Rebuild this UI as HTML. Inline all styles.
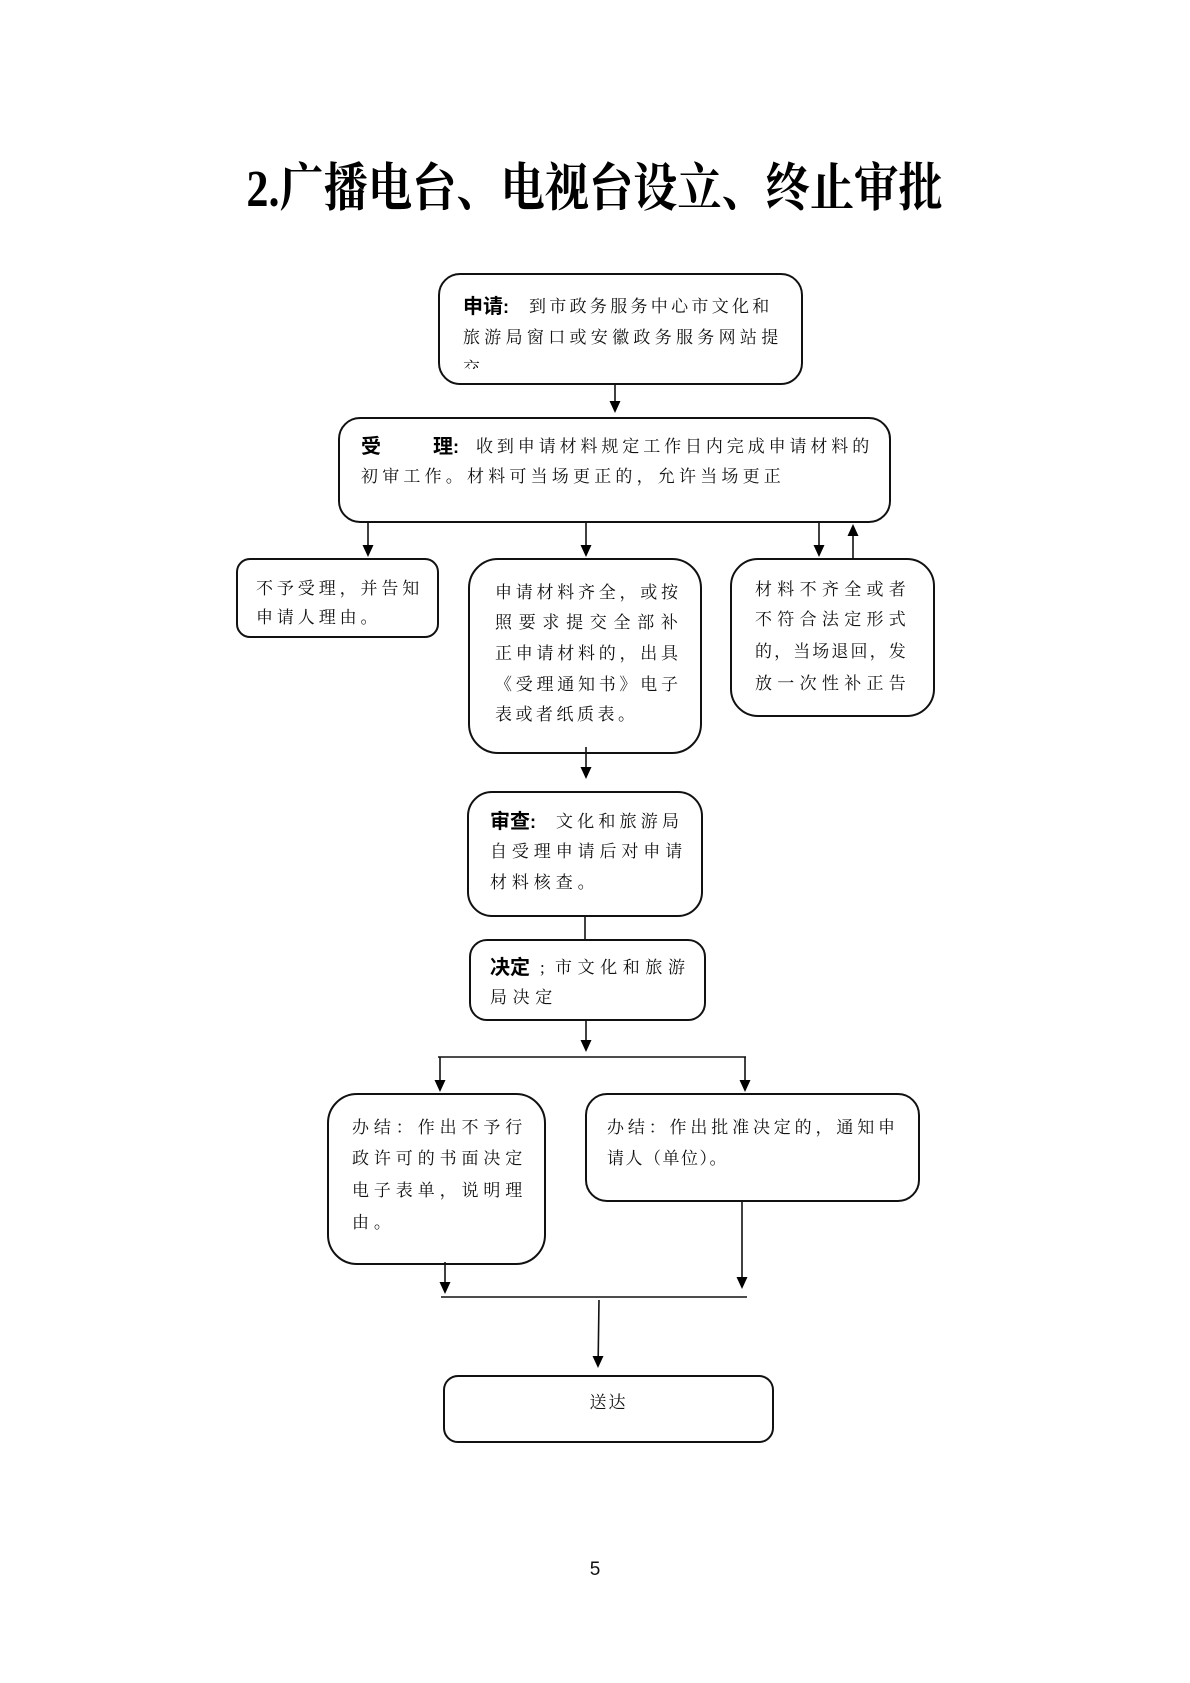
<!DOCTYPE html>
<html>
<head>
<meta charset="utf-8">
<style>
  html,body{margin:0;padding:0;background:#fff;}
  body{width:1190px;height:1683px;position:relative;overflow:hidden;}
  .title{position:absolute;left:0;width:1190px;top:162px;text-align:center;
    font-family:"Liberation Serif","Noto Serif CJK SC",serif;font-weight:bold;font-size:52px;line-height:56px;color:#000;}
  .title span{display:inline-block;transform:scaleX(0.85);transform-origin:center;white-space:nowrap;}
  .box{position:absolute;border:2px solid #111;box-sizing:border-box;background:#fff;}
  .t{position:absolute;white-space:nowrap;font-family:"Liberation Serif","Noto Serif CJK SC",serif;
    font-size:17px;line-height:20px;color:#111;}
  .b{position:absolute;white-space:nowrap;font-family:"Liberation Sans","Noto Sans CJK SC",sans-serif;
    font-weight:bold;font-size:20px;line-height:20px;color:#000;}
  svg{position:absolute;left:0;top:0;}
</style>
</head>
<body>
<div class="title"><span>2.广播电台、电视台设立、终止审批</span></div>

<!-- boxes -->
<div class="box" style="left:438px;top:273px;width:365px;height:112px;border-radius:22px;"></div>
<div class="box" style="left:338px;top:417px;width:553px;height:106px;border-radius:22px;"></div>
<div class="box" style="left:236px;top:558px;width:203px;height:80px;border-radius:14px;"></div>
<div class="box" style="left:468px;top:558px;width:234px;height:196px;border-radius:30px;"></div>
<div class="box" style="left:730px;top:558px;width:205px;height:159px;border-radius:28px;"></div>
<div class="box" style="left:467px;top:791px;width:236px;height:126px;border-radius:25px;"></div>
<div class="box" style="left:469px;top:939px;width:237px;height:82px;border-radius:18px;"></div>
<div class="box" style="left:327px;top:1093px;width:219px;height:172px;border-radius:30px;"></div>
<div class="box" style="left:585px;top:1093px;width:335px;height:109px;border-radius:22px;"></div>
<div class="box" style="left:443px;top:1375px;width:331px;height:68px;border-radius:15px;"></div>

<!-- 申请 -->
<div class="b" style="left:463px;top:297px;">申请<span style="font-size:18px;">:</span></div>
<div class="t" style="left:529px;top:297px;letter-spacing:3.3px;">到市政务服务中心市文化和</div>
<div class="t" style="left:463px;top:328px;letter-spacing:4.3px;">旅游局窗口或安徽政务服务网站提</div>
<div class="t" style="left:463px;top:359px;height:10px;overflow:hidden;">交</div>

<!-- 受理 -->
<div class="b" style="left:361px;top:437px;">受</div>
<div class="b" style="left:433px;top:437px;">理<span style="font-size:18px;">:</span></div>
<div class="t" style="left:476px;top:437px;letter-spacing:3.9px;">收到申请材料规定工作日内完成申请材料的</div>
<div class="t" style="left:361px;top:467px;letter-spacing:4.2px;">初审工作。材料可当场更正的，允许当场更正</div>

<!-- 不予受理 -->
<div class="t" style="left:256px;top:579px;letter-spacing:3.9px;">不予受理，并告知</div>
<div class="t" style="left:256px;top:608px;letter-spacing:3.9px;">申请人理由。</div>

<!-- 中间 -->
<div class="t" style="left:495px;top:583px;letter-spacing:3.75px;">申请材料齐全，或按</div>
<div class="t" style="left:495px;top:613px;letter-spacing:6.7px;">照要求提交全部补</div>
<div class="t" style="left:495px;top:644px;letter-spacing:3.75px;">正申请材料的，出具</div>
<div class="t" style="left:495px;top:675px;letter-spacing:3.75px;">《受理通知书》电子</div>
<div class="t" style="left:495px;top:705px;letter-spacing:3.5px;">表或者纸质表。</div>

<!-- 右侧 -->
<div class="t" style="left:755px;top:580px;letter-spacing:5.3px;">材料不齐全或者</div>
<div class="t" style="left:755px;top:610px;letter-spacing:5.3px;">不符合法定形式</div>
<div class="t" style="left:755px;top:642px;letter-spacing:2.1px;">的，当场退回，发</div>
<div class="t" style="left:755px;top:674px;letter-spacing:5.3px;">放一次性补正告</div>

<!-- 审查 -->
<div class="b" style="left:490px;top:812px;">审查<span style="font-size:18px;">:</span></div>
<div class="t" style="left:556px;top:812px;letter-spacing:4.2px;">文化和旅游局</div>
<div class="t" style="left:490px;top:842px;letter-spacing:4.9px;">自受理申请后对申请</div>
<div class="t" style="left:490px;top:873px;letter-spacing:4.9px;">材料核查。</div>

<!-- 决定 -->
<div class="b" style="left:490px;top:958px;">决定</div>
<div class="t" style="left:540px;top:958px;">;</div>
<div class="t" style="left:555px;top:958px;letter-spacing:5.6px;">市文化和旅游</div>
<div class="t" style="left:490px;top:988px;letter-spacing:5.6px;">局决定</div>

<!-- 办结 左 -->
<div class="t" style="left:352px;top:1118px;letter-spacing:4.9px;">办结：作出不予行</div>
<div class="t" style="left:352px;top:1149px;letter-spacing:4.9px;">政许可的书面决定</div>
<div class="t" style="left:352px;top:1181px;letter-spacing:4.9px;">电子表单，说明理</div>
<div class="t" style="left:352px;top:1213px;letter-spacing:4.9px;">由。</div>

<!-- 办结 右 -->
<div class="t" style="left:607px;top:1118px;letter-spacing:3.85px;">办结：作出批准决定的，通知申</div>
<div class="t" style="left:607px;top:1149px;letter-spacing:1.5px;">请人（单位）。</div>

<!-- 送达 -->
<div class="t" style="left:443px;width:331px;text-align:center;top:1393px;font-size:17px;letter-spacing:2px;">送达</div>

<!-- page number -->
<div style="position:absolute;left:0;width:1190px;text-align:center;top:1558px;font-family:'Liberation Sans',sans-serif;font-size:19px;line-height:24px;color:#111;">5</div>

<svg width="1190" height="1683" viewBox="0 0 1190 1683">
  <g stroke="#111" stroke-width="1.6" fill="none">
    <line x1="615" y1="385" x2="615" y2="402"/>
    <line x1="368" y1="523" x2="368" y2="546"/>
    <line x1="586" y1="523" x2="586" y2="546"/>
    <line x1="819" y1="523" x2="819" y2="546"/>
    <line x1="853" y1="558" x2="853" y2="535"/>
    <line x1="586" y1="747" x2="586" y2="768"/>
    <line x1="585" y1="917" x2="585" y2="939"/>
    <line x1="586" y1="1021" x2="586" y2="1041"/>
    <line x1="438" y1="1057" x2="746" y2="1057"/>
    <line x1="440" y1="1057" x2="440" y2="1081"/>
    <line x1="745" y1="1057" x2="745" y2="1081"/>
    <line x1="445" y1="1262" x2="445" y2="1283"/>
    <line x1="742" y1="1202" x2="742" y2="1278"/>
    <line x1="441" y1="1297" x2="747" y2="1297"/>
    <line x1="599" y1="1300" x2="598.2" y2="1357"/>
  </g>
  <g fill="#000">
    <polygon points="609.5,401 620.5,401 615,413"/>
    <polygon points="362.5,545 373.5,545 368,557"/>
    <polygon points="580.5,545 591.5,545 586,557"/>
    <polygon points="813.5,545 824.5,545 819,557"/>
    <polygon points="847.5,536 858.5,536 853,524"/>
    <polygon points="580.5,767 591.5,767 586,779"/>
    <polygon points="580.5,1040 591.5,1040 586,1052"/>
    <polygon points="434.5,1080 445.5,1080 440,1092"/>
    <polygon points="739.5,1080 750.5,1080 745,1092"/>
    <polygon points="439.5,1282 450.5,1282 445,1294"/>
    <polygon points="736.5,1277 747.5,1277 742,1289"/>
    <polygon points="592.5,1356 603.5,1356 598,1368"/>
  </g>
</svg>
</body>
</html>
